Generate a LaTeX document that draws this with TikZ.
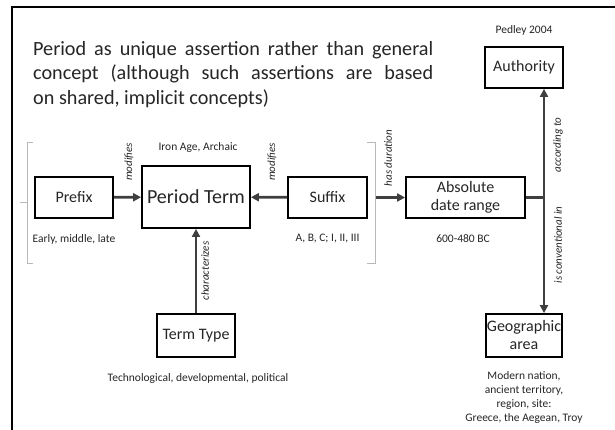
\documentclass[tikz,border=0pt]{standalone}
\usepackage{fontspec}
\setmainfont{Carlito}
\usetikzlibrary{arrows.meta}
\definecolor{ink}{HTML}{262626}
\definecolor{arrowc}{HTML}{3F3F3F}
\definecolor{bracec}{HTML}{B8B8B8}
\begin{document}
\begin{tikzpicture}[x=1pt,y=-1pt,
  box/.style={draw=black,line width=1.8pt,inner sep=0pt,align=center,text=ink,
    font=\fontsize{16}{18}\selectfont},
  tip/.tip={Triangle[length=8pt,width=8pt]},
  conn/.style={draw=arrowc,line width=2.8pt,-tip},
  lab/.style={inner sep=0pt,text=ink,font=\fontsize{11.5}{14.3}\selectfont},
  rlab/.style={inner sep=0pt,text=ink,rotate=90,font=\fontsize{11}{12}\selectfont\itshape},
  bracel/.style={draw=bracec,line width=1pt}]
\useasboundingbox (0,0) rectangle (615,430);
\fill[white] (0,0) rectangle (615,430);
% frame
\draw[line width=1.2pt,black] (12,430) -- (12,7) -- (615,7);
% title
\node[anchor=north west,inner sep=0pt,text width=400pt,align=justify,text=ink,
  font=\fontsize{20.2}{24.5}\selectfont] (title) at (33,41)
  {Period as unique assertion rather than general\linebreak
   concept (although such assertions are based\linebreak
   on shared, implicit concepts)};
% boxes
\node[box,minimum width=78pt,minimum height=41pt] (prefix) at (74,197.5) {Prefix};
\node[box,minimum width=108pt,minimum height=62pt,font=\fontsize{20}{22}\selectfont] (period) at (196,197) {Period Term};
\node[box,minimum width=79pt,minimum height=41pt] (suffix) at (327.5,197.5) {Suffix};
\node[box,minimum width=119pt,minimum height=41pt] (abs) at (465.5,197.5) {Absolute\\date range};
\node[box,minimum width=78pt,minimum height=41pt] (auth) at (524,67.5) {Authority};
\node[box,minimum width=76pt,minimum height=43pt] (geo) at (524,335.5) {Geographic\\area};
\node[box,minimum width=78pt,minimum height=43pt] (tt) at (196,335.5) {Term Type};
% plain labels
\node[lab] (iron) at (198,147) {Iron Age, Archaic};
\node[lab] (eml) at (74,239) {Early, middle, late};
\node[lab] (abc) at (327.5,239) {A, B, C; I, II, III};
\node[lab] (dates) at (463,239) {600-480 BC};
\node[lab] (pedley) at (524,30) {Pedley 2004};
\node[lab] (ttypes) at (198,378) {Technological, developmental, political};
\node[lab,align=center] (geotext) at (524,397.5) {Modern nation,\\ancient territory,\\region, site:\\Greece, the Aegean, Troy};
% braces
\draw[bracel] (33,143) -- (27,143) -- (27,263) -- (33,263);
\draw[bracel] (27,203) -- (20,203);
\draw[bracel] (367,143) -- (375,143) -- (375,263) -- (367,263);
\coordinate (grp) at (376,197.5);
% connectors
\draw[conn] (prefix) -- (period);
\draw[conn] (suffix) -- (period);
\draw[conn] (tt) -- (period);
\draw[conn] (grp) -- (abs);
\coordinate (vtop) at ([xshift=20pt]auth.south);
\coordinate (vbot) at ([xshift=20pt]geo.north);
\coordinate (junc) at (abs.east -| vtop);
\draw[draw=arrowc,line width=2.8pt] (abs.east) -- (junc);
\draw[conn,tip-tip] (vtop) -- (vbot);
% rotated labels
\node[rlab] (mod1) at (129,162) {modifies};
\node[rlab] (mod2) at (272,162) {modifies};
\node[rlab] (dur) at (388,158) {has duration};
\node[rlab] (char) at (205,271) {characterizes};
\node[rlab] (acc) at (558,145) {according to};
\node[rlab] (conv) at (558,245) {is conventional in};
\end{tikzpicture}
\end{document}
